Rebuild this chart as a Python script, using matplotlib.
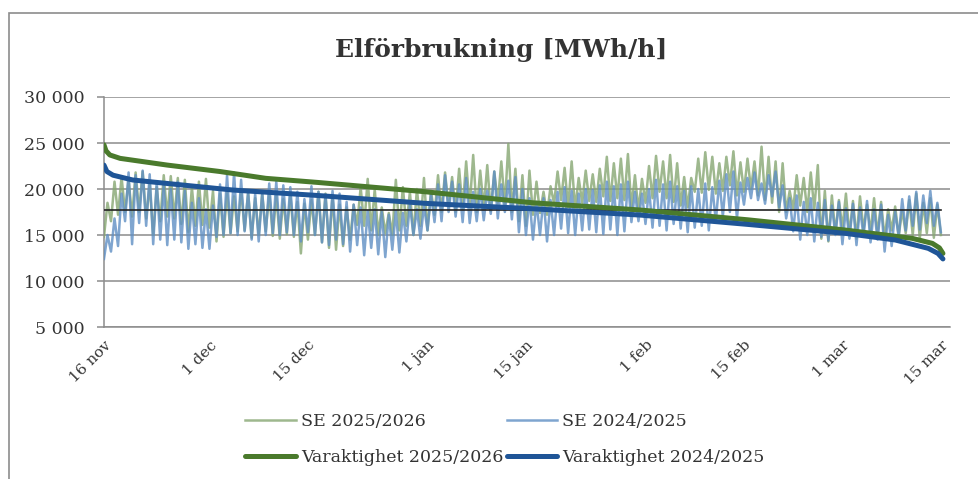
import numpy as np
import pandas as pd
import matplotlib
matplotlib.use('Agg')
import matplotlib.pyplot as plt
from matplotlib.patches import Rectangle
from matplotlib.ticker import FuncFormatter

plt.rcParams['font.family'] = ['DejaVu Serif']

# Förbrukning, avläst var 12:e timme (natt, dag) från 16 nov
se_2526 = [
    14800, 18500, 16500, 20800, 17200, 21300, 17500, 21000, 17000, 21800,
    17500, 21900, 16800, 20500, 15000, 20200, 16500, 21500, 17000, 21400,
    16800, 21200, 16200, 21000, 15300, 20200, 16000, 20800, 16100, 21100,
    15800, 19800, 14300, 19500, 14800, 19700, 15200, 19200, 15400, 20000,
    15500, 19600, 14700, 19000, 15000, 19500, 15400, 19600, 14900, 19300,
    14600, 18900, 15100, 19400, 14800, 18600, 13000, 18400, 14500, 18800,
    15000, 19700, 14200, 19500, 13600, 19200, 13400, 18300, 13800, 18000,
    14500, 18300, 16100, 20200, 16000, 21100, 15500, 20000, 15000, 18000,
    15200, 17400, 15000, 21000, 15500, 20200, 16000, 19700, 15000, 20000,
    16000, 21200, 15500, 19800, 17200, 21500, 17500, 21800, 18000, 21300,
    17500, 22200, 17800, 23000, 18000, 23700, 17500, 22000, 17900, 22600,
    17600, 21900, 18500, 23000, 18200, 24900, 17500, 22200, 16500, 21500,
    16000, 22000, 17200, 20800, 17400, 19700, 17200, 20300, 18400, 21900,
    18800, 22300, 18000, 23000, 17800, 21200, 18500, 22000, 18700, 21600,
    18600, 22200, 19200, 23500, 18700, 22800, 19000, 23300, 18800, 23800,
    18000, 21500, 17700, 21100, 18500, 22500, 19000, 23600, 19700, 23000,
    19000, 23700, 18600, 22800, 18200, 21300, 18000, 21200, 19700, 23300,
    19600, 24000, 19900, 23500, 19500, 22800, 19800, 23500, 20400, 24100,
    19300, 22900, 19700, 23300, 20000, 23000, 19300, 24600, 18800, 23500,
    18500, 23000, 17500, 22800, 17500, 19800, 17800, 21500, 18200, 21200,
    17500, 21800, 17800, 22600, 14600, 19800, 14300, 19300, 15200, 18800,
    15700, 19500, 15000, 18700, 14600, 19200, 15600, 18300, 15300, 19000,
    15000, 18600, 14600, 17800, 15500, 18100, 14900, 17700, 15200, 18800,
    15000, 19500, 14600, 18500, 15200, 19000, 14700, 18300, 15000,
]

se_2425 = [
    12400, 15000, 13200, 16800, 13800, 19500, 16500, 21800, 14000, 21500,
    16300, 22000, 16000, 21600, 14000, 20800, 14500, 20500, 13900, 20000,
    14500, 20800, 14200, 19800, 13500, 18500, 14000, 19000, 13600, 17800,
    13500, 18200, 14800, 20500, 15000, 21500, 15200, 21800, 15000, 21000,
    15400, 19700, 14500, 19500, 14300, 19600, 15000, 20600, 15200, 20800,
    15000, 20400, 15300, 20200, 15000, 19700, 14300, 18900, 15300, 20300,
    15000, 19700, 14200, 19400, 13900, 19800, 14500, 19500, 14000, 18600,
    13200, 18300, 13900, 18000, 12800, 17600, 13600, 17800, 12900, 17500,
    12600, 17200, 13400, 17600, 13100, 17400, 14300, 18300, 15000, 17800,
    14600, 18200, 15500, 19400, 16400, 20500, 16500, 21500, 17500, 20800,
    17000, 20500, 16400, 21200, 16300, 19700, 16500, 20000, 16600, 19800,
    17300, 21900, 16800, 20500, 17500, 20900, 16700, 21300, 15300, 20000,
    15000, 19000, 14500, 18600, 15000, 19000, 14300, 18800, 15000, 19700,
    15700, 20200, 15200, 19800, 15000, 19500, 15500, 20000, 15600, 19900,
    15300, 20400, 15100, 20800, 15600, 20300, 15000, 20500, 15400, 20800,
    16400, 19700, 16500, 19500, 16200, 20000, 15800, 21000, 16000, 20500,
    15500, 20800, 16200, 20300, 15700, 19800, 15300, 20300, 15800, 20000,
    16000, 20600, 15500, 20200, 16500, 20900, 17000, 21600, 17500, 21900,
    16800, 20700, 18300, 21200, 19000, 21800, 18800, 20600, 18400, 21500,
    19200, 21900, 18000, 20400, 16800, 19000, 15400, 19300, 14500, 18600,
    15000, 19000, 14300, 18500, 14800, 18800, 14400, 18200, 15000, 18600,
    14000, 17900, 14600, 18400, 13900, 18000, 14800, 18700, 14200, 17800,
    14500, 18300, 13200, 17200, 13800, 17500, 14800, 18900, 15500, 19200,
    16000, 19700, 15600, 19300, 16300, 19800, 16000, 18500, 15300,
]

# Varaktighetskurvor (timmar rangordnade, MWh/h)
var_2526_timmar = [0, 7, 20, 55, 216, 396, 552, 727, 1097, 1464, 1829, 2198, 2530, 2758, 2827, 2851, 2863]
var_2526 = [24800, 24150, 23700, 23330, 22600, 21900, 21160, 20720, 19700, 18500, 17720, 16650, 15540, 14640, 14090, 13600, 13000]
var_2425_timmar = [0, 10, 31, 98, 269, 439, 727, 1097, 1464, 1829, 2198, 2530, 2700, 2813, 2846, 2863]
var_2425 = [22600, 21900, 21500, 20980, 20430, 19890, 19300, 18440, 17850, 17170, 16150, 15180, 14460, 13550, 13000, 12400]

medel = 17720

start = pd.Timestamp('2025-11-16')
t_2526 = pd.date_range(start, periods=len(se_2526), freq='12h')
t_2425 = pd.date_range(start, periods=len(se_2425), freq='12h')
t_var_2526 = start + pd.to_timedelta(var_2526_timmar, unit='h')
t_var_2425 = start + pd.to_timedelta(var_2425_timmar, unit='h')

tick_datum = pd.to_datetime(['2025-11-16', '2025-12-01', '2025-12-15', '2026-01-01', '2026-01-15',
                             '2026-02-01', '2026-02-15', '2026-03-01', '2026-03-15'])
tick_text = ['16 nov', '1 dec', '15 dec', '1 jan', '15 jan', '1 feb', '15 feb', '1 mar', '15 mar']

fig = plt.figure(figsize=(9.79, 4.79), dpi=100)
ax = fig.add_axes([0.1062, 0.3173, 0.8642, 0.4802])

# ram runt diagrammet
fig.patches.append(Rectangle((9 / 979, -0.1), 1.2, 1.1 - 13 / 479, transform=fig.transFigure,
                             fill=False, edgecolor='#8c8c8c', linewidth=1.2))

ax.plot(t_2526, se_2526, color='#86a672', lw=1.8, alpha=0.8, label='SE 2025/2026', zorder=3)
ax.plot(t_2425, se_2425, color='#5f8fc4', lw=1.8, alpha=0.8, label='SE 2024/2025', zorder=3)
ax.plot([t_2526[0], t_2526[-1]], [medel, medel], color='#222222', lw=1.2, zorder=4)
ax.plot(t_var_2526, var_2526, color='#4a7a2c', lw=3.6, label='Varaktighet 2025/2026', zorder=5,
        solid_capstyle='round')
ax.plot(t_var_2425, var_2425, color='#1f5597', lw=3.6, label='Varaktighet 2024/2025', zorder=5,
        solid_capstyle='round')

ax.set_ylim(5000, 30000)
ax.set_yticks(np.arange(5000, 30001, 5000))
ax.yaxis.set_major_formatter(FuncFormatter(lambda v, p: f'{int(v):,}'.replace(',', ' ')))
ax.set_xlim(start, start + pd.Timedelta(days=120.3))
ax.set_xticks(tick_datum)
ax.set_xticklabels(tick_text, rotation=45, ha='right', rotation_mode='anchor')

ax.grid(axis='y', color='#8c8c8c', lw=1.1)
ax.set_axisbelow(True)
for s in ['top', 'right']:
    ax.spines[s].set_visible(False)
for s in ['left', 'bottom']:
    ax.spines[s].set_color('#8c8c8c')
    ax.spines[s].set_linewidth(1.1)
ax.tick_params(axis='y', length=5, color='#8c8c8c', width=1.1, pad=9, labelsize=12.5, labelcolor='#333333')
ax.tick_params(axis='x', length=0, pad=8, labelsize=11, labelcolor='#333333')

fig.text(0.512, 0.896, 'Elförbrukning [MWh/h]', ha='center', va='center',
         fontsize=18, fontweight='bold', color='#333333')

h, l = ax.get_legend_handles_labels()
order = [0, 2, 1, 3]
fig.legend([h[i] for i in order], [l[i] for i in order], ncol=2, loc='center',
           bbox_to_anchor=(0.516, 0.082), frameon=False, fontsize=12.5,
           handlelength=2.9, columnspacing=0.2, handletextpad=0.3, labelspacing=1.1,
           labelcolor='#333333')

fig.savefig('out.png', dpi=100)
